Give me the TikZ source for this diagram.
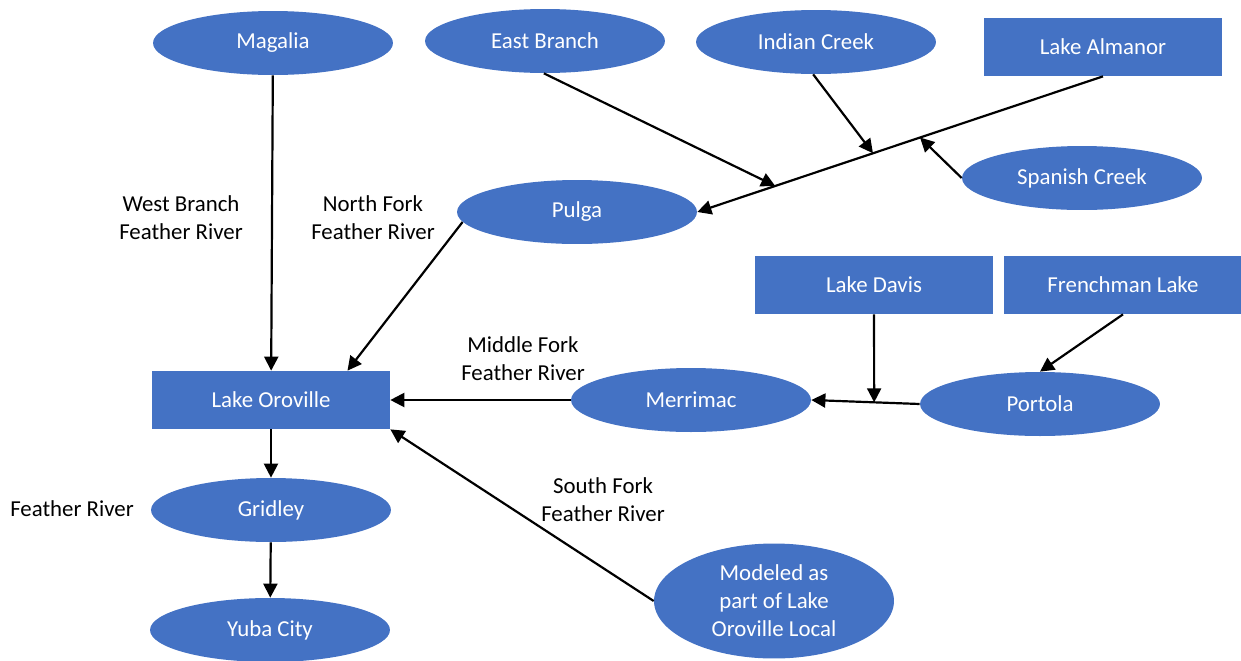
\documentclass[tikz,border=0pt]{standalone}
\usepackage{fontspec}
\setmainfont{Carlito}
\usepackage{tikz}
\usetikzlibrary{shapes.geometric, arrows.meta}
\definecolor{nodeblue}{HTML}{4472C4}

\begin{document}
\begin{tikzpicture}[x=0.02cm, y=-0.02cm,
    every node/.style={font=\fontsize{13}{16}\selectfont},
    place/.style={ellipse, fill=nodeblue, text=white, minimum width=4.8cm, minimum height=1.28cm, inner sep=0pt, align=center},
    lake/.style={rectangle, fill=nodeblue, text=white, minimum width=4.76cm, minimum height=1.16cm, inner sep=0pt},
    flow/.style={-{Triangle[length=8pt, width=8pt]}, line width=1.25pt},
    river/.style={align=center}]
  \useasboundingbox (0, 0) rectangle (1241, 660);
  \node [place] (magalia) at (273, 43) {Magalia};
  \node [place] (eastbr) at (545, 41) {East Branch};
  \node [place] (indian) at (816, 42) {Indian Creek};
  \node [lake] (almanor) at (1103, 47) {Lake Almanor};
  \node [place] (spanish) at (1082, 178) {Spanish Creek};
  \node [place] (pulga) at (577, 212) {Pulga};
  \node [lake] (davis) at (874, 285) {Lake Davis};
  \node [lake] (frenchman) at (1123, 285) {Frenchman Lake};
  \node [lake] (oroville) at (271, 400) {Lake Oroville};
  \node [place] (merrimac) at (691, 400) {Merrimac};
  \node [place] (portola) at (1040, 404) {Portola};
  \node [place] (gridley) at (271, 510) {Gridley};
  \node [place] (yuba) at (270, 630) {Yuba City};
  \node [place, minimum height=2.3cm] (local) at (774, 601) {Modeled as\\part of Lake\\Oroville Local};
  \node [river] (westlbl) at (181, 218) {West Branch\\Feather River};
  \node [river] (northlbl) at (373, 218) {North Fork\\Feather River};
  \node [river] (middlelbl) at (523, 359) {Middle Fork\\Feather River};
  \node [river] (featherlbl) at (72, 509) {Feather River};
  \node [river] (southlbl) at (603, 500) {South Fork\\Feather River};
  % junctions on the main stems
  \path (almanor.south) -- coordinate [pos=.808] (j1) coordinate [pos=.567] (j2) coordinate [pos=.451] (j3) (pulga.east);
  \path (portola.west) -- coordinate [pos=.42] (j4) (merrimac.east);
  \draw [flow] (magalia) -- (oroville);
  \draw [flow] (pulga.185) -- (oroville.21);
  \draw [flow] (almanor.south) -- (pulga.east);
  \draw [flow] (eastbr.268) -- (j1);
  \draw [flow] (indian.265) -- (j2);
  \draw [flow] (spanish.west) -- (j3);
  \draw [flow] (merrimac) -- (oroville);
  \draw [flow] (portola.west) -- (merrimac.east);
  \draw [flow] (davis) -- (j4);
  \draw [flow] (frenchman.south) -- (portola.north);
  \draw [flow] (local.west) -- (oroville.south east);
  \draw [flow] (oroville) -- (gridley);
  \draw [flow] (gridley) -- (yuba);
\end{tikzpicture}
\end{document}
